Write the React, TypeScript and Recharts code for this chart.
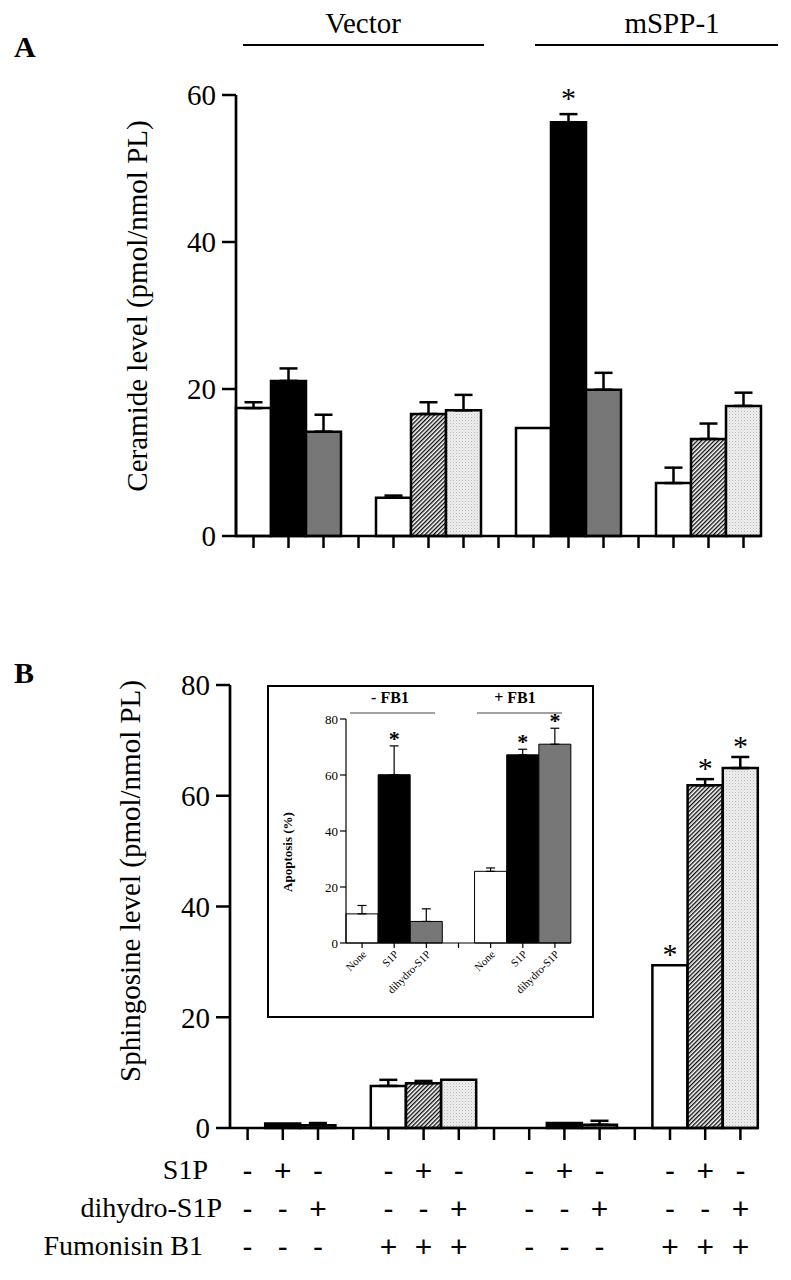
import React from 'react';
import { ComposedChart, Bar, Cell, ErrorBar, Scatter, XAxis, YAxis } from 'recharts';

const serif = '"Liberation Serif", "Times New Roman", serif';
const sans = '"Liberation Sans", Arial, sans-serif';

// 15 slots per main panel: four groups of three bars, one empty slot between groups
const slotKeys = ['v1', 'v2', 'v3', 'g1', 'vf1', 'vf2', 'vf3', 'g2', 'm1', 'm2', 'm3', 'g3', 'mf1', 'mf2', 'mf3'];
const barKind = ['none', 's1p', 'dh', 'gap', 'none', 's1pFb', 'dhFb', 'gap', 'none', 's1p', 'dh', 'gap', 'none', 's1pFb', 'dhFb'];

// panel A - ceramide (pmol/nmol PL)
const ceramide = [17.4, 21.1, 14.2, null, 5.2, 16.6, 17.1, null, 14.7, 56.3, 19.9, null, 7.2, 13.2, 17.7];
const ceramideErr = [0.8, 1.7, 2.3, null, 0.3, 1.6, 2.1, null, null, 1.1, 2.3, null, 2.1, 2.1, 1.8];
const ceramideStar = [false, false, false, false, false, false, false, false, false, true, false, false, false, false, false];
const ceramideTicks = [0, 20, 40, 60];

// panel B - sphingosine (pmol/nmol PL)
const sphingosine = [0, 0.8, 0.5, null, 7.6, 8.1, 8.7, null, 0, 0.9, 0.6, null, 29.4, 61.9, 65.0];
const sphingosineErr = [null, null, 0.4, null, 1.1, 0.4, null, null, null, null, 0.7, null, null, 1.1, 2.0];
const sphingosineStar = [false, false, false, false, false, false, false, false, false, false, false, false, true, true, true];
const sphingosineTicks = [0, 20, 40, 60, 80];

// treatment table under panel B
const s1pRow = ['-', '+', '-', '', '-', '+', '-', '', '-', '+', '-', '', '-', '+', '-'];
const dihydroRow = ['-', '-', '+', '', '-', '-', '+', '', '-', '-', '+', '', '-', '-', '+'];
const fumonisinRow = ['-', '-', '-', '', '+', '+', '+', '', '-', '-', '-', '', '+', '+', '+'];
const rowLabels = ['S1P', 'dihydro-S1P', 'Fumonisin B1'];

// inset - apoptosis (%)
const apopKeys = ['n', 's', 'd', 'g', 'fn', 'fs', 'fd'];
const apopLabels = ['None', 'S1P', 'dihydro-S1P', '', 'None', 'S1P', 'dihydro-S1P'];
const apopKind = ['none', 's1p', 'dh', 'gap', 'none', 's1p', 'dh'];
const apoptosis = [10.4, 60.1, 7.7, null, 25.6, 67.2, 71.0];
const apoptosisErr = [3.0, 10.3, 4.5, null, 1.2, 2.0, 5.7];
const apoptosisStar = [false, true, false, false, false, true, true];
const apopTicks = [0, 20, 40, 60, 80];

const makeRows = (keys: string[], values: (number | null)[], errs: (number | null)[], stars: boolean[]) =>
  keys.map((slot, i) => ({
    slot,
    value: values[i],
    err: errs[i] == null ? null : [0, errs[i]],
    star: stars[i] ? (values[i] as number) + (errs[i] ?? 0) : null,
  }));

const ceramideRows = makeRows(slotKeys, ceramide, ceramideErr, ceramideStar);
const sphingosineRows = makeRows(slotKeys, sphingosine, sphingosineErr, sphingosineStar);
const apopRows = makeRows(apopKeys, apoptosis, apoptosisErr, apoptosisStar);

const fillFor = (id: string, kind: string) => {
  if (kind === 's1p') return '#000000';
  if (kind === 'dh') return '#777777';
  if (kind === 's1pFb') return `url(#hatch-${id})`;
  if (kind === 'dhFb') return `url(#dots-${id})`;
  if (kind === 'gap') return 'none';
  return '#ffffff';
};

const Patterns = ({ id }: { id: string }) => (
  <defs>
    <pattern id={`hatch-${id}`} patternUnits="userSpaceOnUse" width={3} height={3} patternTransform="rotate(45)">
      <rect width={3} height={3} fill="#ffffff" />
      <line x1={0.7} y1={0} x2={0.7} y2={3} stroke="#000" strokeWidth={1.3} />
    </pattern>
    <pattern id={`dots-${id}`} patternUnits="userSpaceOnUse" width={3} height={3}>
      <rect width={3} height={3} fill="#efefef" />
      <rect x={0} y={0} width={1} height={1} fill="#b8b8b8" />
      <rect x={1.5} y={1.5} width={1} height={1} fill="#cfcfcf" />
    </pattern>
  </defs>
);

const yTitle = (text: string, x: number, y: number, size: number, weight = 'normal') => () => (
  <text x={x} y={y} transform={`rotate(-90 ${x} ${y})`} textAnchor="middle" dominantBaseline="central"
    fontFamily={serif} fontSize={size} fontWeight={weight} fill="#000">{text}</text>
);

const starShape = (offset: number, size: number, weight = 'normal') => (props: any) => {
  const { cx, cy } = props;
  if (cx == null || cy == null || Number.isNaN(cx) || Number.isNaN(cy)) return <g />;
  return (
    <text x={cx} y={cy - offset + size * 0.49} textAnchor="middle" fontFamily={serif} fontSize={size} fontWeight={weight} fill="#000">*</text>
  );
};

const EmptyTick = () => <g />;

const SignTick = ({ x, y, payload }: any) => {
  const i = slotKeys.indexOf(payload.value);
  return (
    <g>
      {[s1pRow, dihydroRow, fumonisinRow].map((row, r) => (
        <text key={r} x={x} y={y + 39 + r * 38} textAnchor="middle" fontFamily={sans} fontSize={30} fill="#000">{row[i]}</text>
      ))}
    </g>
  );
};

const ApopTick = ({ x, y, payload }: any) => {
  const i = apopKeys.indexOf(payload.value);
  const tx = x + 5;
  const ty = y + 5;
  return (
    <text x={tx} y={ty} transform={`rotate(-45 ${tx} ${ty})`} textAnchor="end" fontFamily={serif} fontSize={11} fill="#000">{apopLabels[i]}</text>
  );
};

const axisBold = { stroke: '#000', strokeWidth: 2.7 };
const tickBold = { stroke: '#000', strokeWidth: 2.5 };
const tickText = { fill: '#000', fontSize: 29, fontFamily: serif };

export default function App() {
  return (
    <div style={{ position: 'absolute', left: 0, top: 0, width: 791, height: 1280, background: '#fff' }}>
      <div style={{ position: 'absolute', left: 0, top: 0 }}>
        <ComposedChart width={791} height={600} data={ceramideRows} margin={{ top: 95, right: 30, bottom: 34, left: 126 }} barCategoryGap={0} barGap={0}>
          <Patterns id="a" />
          <XAxis dataKey="slot" interval={0} tick={EmptyTick} tickSize={12} height={30} axisLine={axisBold} tickLine={tickBold} />
          <YAxis domain={[0, 60]} ticks={ceramideTicks} width={110} tickSize={14} tickMargin={6} axisLine={axisBold} tickLine={tickBold} tick={tickText}
            label={yTitle('Ceramide level (pmol/nmol PL)', 137, 306, 29)} />
          <Bar dataKey="value" isAnimationActive={false} stroke="#000" strokeWidth={2.5}>
            {ceramideRows.map((r, i) => <Cell key={r.slot} fill={fillFor('a', barKind[i])} />)}
            <ErrorBar dataKey="err" width={9} stroke="#000" strokeWidth={2.5} />
          </Bar>
          <Scatter dataKey="star" isAnimationActive={false} shape={starShape(21, 30)} />
        </ComposedChart>
      </div>

      <div style={{ position: 'absolute', left: 0, top: 600 }}>
        <ComposedChart width={791} height={680} data={sphingosineRows} margin={{ top: 85, right: 33, bottom: 22, left: 130 }} barCategoryGap={0} barGap={0}>
          <Patterns id="b" />
          <XAxis dataKey="slot" interval={0} tick={SignTick} tickSize={12} tickMargin={2} height={130} axisLine={axisBold} tickLine={tickBold} />
          <YAxis domain={[0, 80]} ticks={sphingosineTicks} width={100} tickSize={14} tickMargin={6} axisLine={axisBold} tickLine={tickBold} tick={tickText}
            label={yTitle('Sphingosine level (pmol/nmol PL)', 130, 281, 29)} />
          <Bar dataKey="value" isAnimationActive={false} stroke="#000" strokeWidth={2.5}>
            {sphingosineRows.map((r, i) => <Cell key={r.slot} fill={fillFor('b', barKind[i])} />)}
            <ErrorBar dataKey="err" width={9} stroke="#000" strokeWidth={2.5} />
          </Bar>
          <Scatter dataKey="star" isAnimationActive={false} shape={starShape(16, 30)} />
        </ComposedChart>
      </div>

      <div style={{ position: 'absolute', left: 267, top: 685, width: 327, height: 333, border: '2px solid #000', boxSizing: 'border-box', background: '#fff' }}>
        <ComposedChart width={323} height={329} data={apopRows} margin={{ top: 32, right: 21, bottom: 23, left: 37 }} barCategoryGap={0} barGap={0}>
          <XAxis dataKey="slot" interval={0} tick={ApopTick} tickSize={5} tickMargin={2} height={50} axisLine={{ stroke: '#000', strokeWidth: 1.2 }} tickLine={{ stroke: '#000', strokeWidth: 1.2 }} />
          <YAxis domain={[0, 80]} ticks={apopTicks} width={40} tickSize={6} tickMargin={2} axisLine={{ stroke: '#000', strokeWidth: 1.2 }} tickLine={{ stroke: '#000', strokeWidth: 1.2 }}
            tick={{ fill: '#000', fontSize: 13, fontFamily: serif }} label={yTitle('Apoptosis (%)', 18, 165, 13, 'bold')} />
          <Bar dataKey="value" isAnimationActive={false} stroke="#000" strokeWidth={1}>
            {apopRows.map((r, i) => <Cell key={r.slot} fill={fillFor('c', apopKind[i])} />)}
            <ErrorBar dataKey="err" width={4.5} stroke="#000" strokeWidth={1.2} />
          </Bar>
          <Scatter dataKey="star" isAnimationActive={false} shape={starShape(11, 22, 'bold')} />
        </ComposedChart>
      </div>

      <svg width={791} height={1280} style={{ position: 'absolute', left: 0, top: 0, pointerEvents: 'none' }}>
        <g fontFamily={serif} fill="#000">
          <text x={14} y={57} fontSize={30} fontWeight="bold">A</text>
          <text x={14} y={683} fontSize={30} fontWeight="bold">B</text>
          <text x={363} y={33} fontSize={29} textAnchor="middle">Vector</text>
          <text x={672} y={33} fontSize={29} textAnchor="middle">mSPP-1</text>
          <text x={208} y={1179} fontSize={28} textAnchor="end">{rowLabels[0]}</text>
          <text x={222} y={1217} fontSize={28} textAnchor="end">{rowLabels[1]}</text>
          <text x={203} y={1255} fontSize={28} textAnchor="end">{rowLabels[2]}</text>
          <text x={390} y={703} fontSize={16} fontWeight="bold" textAnchor="middle">- FB1</text>
          <text x={515} y={703} fontSize={16} fontWeight="bold" textAnchor="middle">+ FB1</text>
        </g>
        <line x1={243} y1={45} x2={484} y2={45} stroke="#000" strokeWidth={2} />
        <line x1={535} y1={45} x2={778} y2={45} stroke="#000" strokeWidth={2} />
        <line x1={350} y1={713} x2={435} y2={713} stroke="#444" strokeWidth={1.2} />
        <line x1={477} y1={713} x2={562} y2={713} stroke="#444" strokeWidth={1.2} />
      </svg>
    </div>
  );
}
